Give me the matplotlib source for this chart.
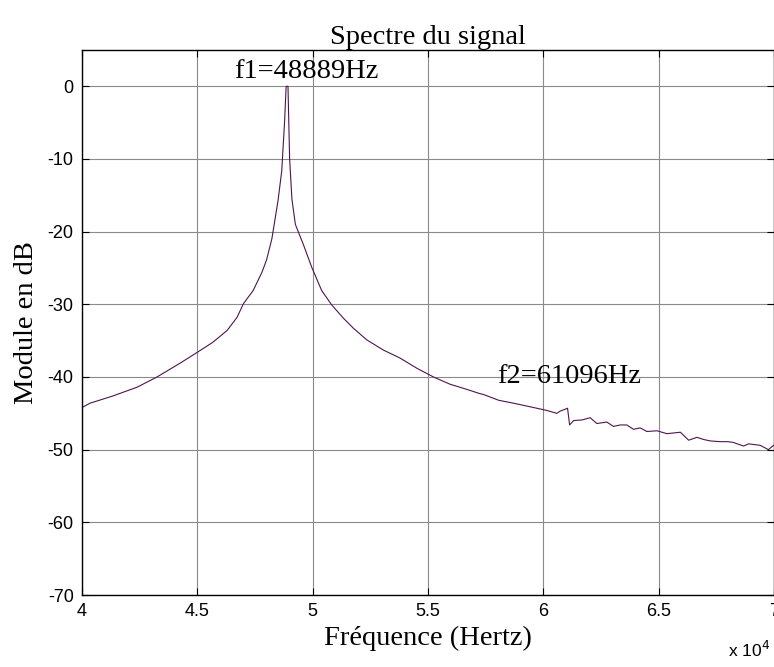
import matplotlib
matplotlib.use("Agg")
import matplotlib.pyplot as plt
from matplotlib.ticker import FuncFormatter

plt.rcParams["axes.unicode_minus"] = False

# Spectrum magnitude (dB) versus frequency (Hz)
freq_hz = [
    40000, 40350, 41350, 42390, 43250, 44250, 45000, 45680, 46290, 46720,
    47000, 47420, 47800, 48000, 48230, 48500, 48660, 48780, 48850, 48930,
    49000, 49100, 49250, 49450, 49600, 49960, 50390, 50830, 51330, 51770,
    52350, 53070, 53790, 54520, 55240, 55960, 56680, 57260, 57400, 57980,
    58060, 58700, 59430, 60150, 60580, 60730, 61050, 61140, 61310, 61700,
    62030, 62320, 62750, 63040, 63330, 63620, 63910, 64200, 64490, 64930,
    65360, 65940, 66300, 66660, 66950, 67240, 67670, 68000, 68230, 68680,
    68900, 69400, 69760, 69980,
]
module_db = [
    -44.2, -43.6, -42.6, -41.4, -40.0, -38.1, -36.6, -35.2, -33.6, -31.8,
    -29.9, -28.1, -25.6, -23.9, -21.0, -15.7, -11.6, -5.0, 0.0, 0.0,
    -9.9, -15.5, -19.0, -20.6, -21.8, -24.9, -28.1, -30.1, -31.9, -33.3,
    -34.9, -36.3, -37.4, -38.8, -40.0, -41.0, -41.7, -42.3, -42.4, -43.1,
    -43.2, -43.6, -44.1, -44.6, -45.0, -44.7, -44.3, -46.6, -46.0, -45.9,
    -45.6, -46.4, -46.2, -46.8, -46.6, -46.6, -47.2, -47.0, -47.5, -47.4,
    -47.8, -47.6, -48.7, -48.3, -48.6, -48.8, -48.9, -48.9, -49.0, -49.5,
    -49.2, -49.4, -50.0, -49.4,
]

x_ticks = [40000, 45000, 50000, 55000, 60000, 65000, 70000]
y_ticks = [0, -10, -20, -30, -40, -50, -60, -70]

f1_label = "f1=48889Hz"
f2_label = "f2=61096Hz"

serif = ["Liberation Serif", "DejaVu Serif"]
sans = ["Liberation Sans", "DejaVu Sans"]

fig = plt.figure(figsize=(7.74, 6.67), dpi=100)
ax = fig.add_axes([82 / 774, 1 - 595 / 667, 692 / 774, 545 / 667])

ax.plot(freq_hz, module_db, color="#4e1550", lw=0.8)

ax.set_xlim(40000, 70000)
ax.set_ylim(-70, 5)
ax.set_xticks(x_ticks)
ax.set_yticks(y_ticks)
ax.xaxis.set_major_formatter(FuncFormatter(lambda v, p: f"{v / 1e4:g}"))
ax.grid(True, color="#8a8a8a", lw=0.8)
ax.set_axisbelow(True)

ax.tick_params(direction="in", length=5, width=0.8, top=True, right=True,
               labelsize=13, pad=6)
for lab in ax.get_xticklabels() + ax.get_yticklabels():
    lab.set_family(sans)
for sp in ax.spines.values():
    sp.set_linewidth(1.0)

ax.set_title("Spectre du signal", family=serif, fontsize=20.5, pad=4)
ax.set_xlabel("Fréquence (Hertz)", family=serif, fontsize=20.5, labelpad=4)
ax.set_ylabel("Module en dB", family=serif, fontsize=20.5, labelpad=6)

ax.text(46600, 2.0, f1_label, family=serif, fontsize=20.5, ha="left", va="center")
ax.text(58000, -40.0, f2_label, family=serif, fontsize=20.5, ha="left", va="center")

fig.text(728 / 774, 1 - 650 / 667, r"x 10$^{4}$", family=sans, fontsize=12.5,
         ha="left", va="center")

fig.savefig("out.png", dpi=100)
